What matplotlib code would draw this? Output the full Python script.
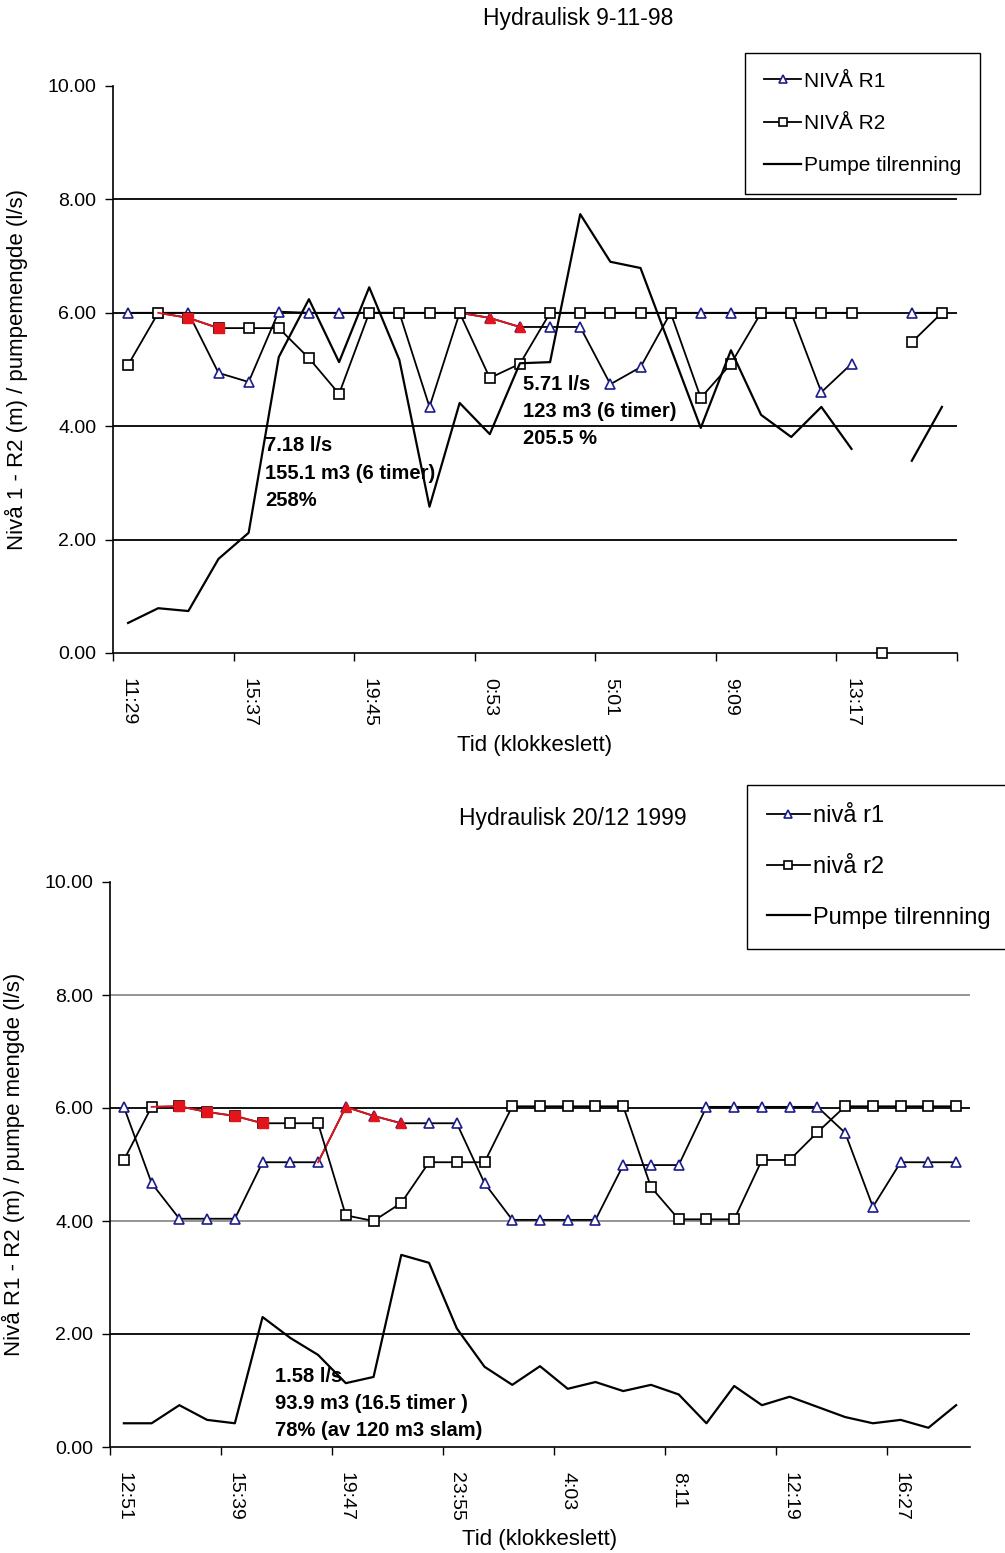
import numpy as np
import matplotlib
matplotlib.use("Agg")
import matplotlib.pyplot as plt
from matplotlib.ticker import FixedLocator, FixedFormatter, NullFormatter

plt.rcParams['font.family'] = ['Liberation Sans', 'DejaVu Sans']

nan = np.nan

# ---------------- Data: chart 1 (Hydraulisk 9-11-98) ----------------
top_title = "Hydraulisk 9-11-98"
top_tick_labels = ["11:29", "15:37", "19:45", "0:53", "5:01", "9:09", "13:17"]
top_r1 = [6.0, 6.0, 6.0, 4.94, 4.78, 6.02, 6.0, 6.0, 6.0, 6.0, 4.34, 6.0, 5.91, 5.75,
          5.75, 5.75, 4.74, 5.04, 6.0, 6.0, 6.0, 6.0, 6.0, 4.6, 5.1, nan, 6.0, 6.0]
top_r2 = [5.08, 6.0, 5.91, 5.73, 5.73, 5.73, 5.2, 4.57, 6.0, 6.0, 6.0, 6.0, 4.85, 5.1,
          6.0, 6.0, 6.0, 6.0, 6.0, 4.5, 5.1, 6.0, 6.0, 6.0, 6.0, 0.0, 5.48, 6.0]
top_pump = [0.53, 0.79, 0.74, 1.66, 2.12, 5.22, 6.24, 5.13, 6.45, 5.17, 2.58, 4.41, 3.86,
            5.11, 5.13, 7.74, 6.9, 6.79, 5.38, 3.97, 5.34, 4.2, 3.81, 4.34, 3.6, nan, 3.39, 4.34]
top_r2_isolated = [25]          # point shown without connecting line
top_r2_red = (1, 3)             # red segment range (start, end) of R2
top_r1_red = (11, 13)           # red segment range of R1
top_labels = ["NIVÅ R1", "NIVÅ R2", "Pumpe tilrenning"]
top_ylabel = "Nivå 1 - R2 (m) / pumpemengde (l/s)"
top_notes = [(4.55, 3.82, "7.18 l/s\n155.1 m3 (6 timer)\n258%"),
             (13.1, 4.91, "5.71 l/s\n123 m3 (6 timer)\n205.5 %")]

# ---------------- Data: chart 2 (Hydraulisk 20/12 1999) ----------------
bot_title = "Hydraulisk 20/12 1999"
bot_tick_labels = ["12:51", "15:39", "19:47", "23:55", "4:03", "8:11", "12:19", "16:27"]
bot_r1 = [6.02, 4.67, 4.04, 4.04, 4.04, 5.04, 5.04, 5.04, 6.02, 5.86, 5.73, 5.73, 5.73,
          4.67, 4.02, 4.02, 4.02, 4.02, 4.99, 4.99, 4.99, 6.02, 6.02, 6.02, 6.02, 6.02,
          5.56, 4.25, 5.04, 5.04, 5.04]
bot_r2 = [5.08, 6.02, 6.03, 5.93, 5.86, 5.73, 5.73, 5.73, 4.1, 4.0, 4.32, 5.04, 5.04,
          5.04, 6.03, 6.03, 6.03, 6.03, 6.03, 4.6, 4.03, 4.03, 4.03, 5.08, 5.08, 5.57,
          6.03, 6.03, 6.03, 6.03, 6.03]
bot_pump = [0.42, 0.42, 0.74, 0.48, 0.42, 2.3, 1.93, 1.63, 1.13, 1.24, 3.4, 3.26, 2.1,
            1.42, 1.1, 1.43, 1.03, 1.15, 0.99, 1.1, 0.93, 0.42, 1.08, 0.74, 0.89, 0.71,
            0.53, 0.42, 0.48, 0.34, 0.74]
bot_r2_isolated = []
bot_r2_red = (1, 5)
bot_r1_red = (7, 10)
bot_labels = ["nivå r1", "nivå r2", "Pumpe tilrenning"]
bot_ylabel = "Nivå R1 - R2 (m) / pumpe mengde (l/s)"
bot_notes = [(5.45, 1.42, "1.58 l/s\n93.9 m3 (16.5 timer )\n78% (av 120 m3 slam)")]

# ---------------- Styling ----------------
BLUE = "#1c1c8a"
RED = "#e3141c"
LW = 1.3
MS = 6.8

W, H = 1005, 1553
fig = plt.figure(figsize=(W / 100, H / 100), dpi=100)


def draw(ax, r1, r2, pump, r2_iso, r2_red, r1_red, tick_labels, labels,
         ylabel, notes, grid_colors, legend_pos, legend_fs, legend_spacing, legend_pad):
    n = len(r1)
    x = np.arange(n)
    r1 = np.array(r1, dtype=float)
    r2 = np.array(r2, dtype=float)
    pump = np.array(pump, dtype=float)

    for yv, c in zip([2, 4, 6, 8], grid_colors):
        ax.axhline(yv, color=c, lw=1.3, zorder=1)

    # R1
    l1, = ax.plot(x, r1, color="black", lw=LW, marker="^", ms=MS,
                  mfc="white", mec=BLUE, mew=1.2, zorder=3, label=labels[0])
    a, b = r1_red
    ax.plot(x[a:b + 1], r1[a:b + 1], color=RED, lw=LW, zorder=3.5)
    ax.plot(x[a + 1:b + 1], r1[a + 1:b + 1], ls="none", marker="^", ms=MS,
            mfc=RED, mec=RED, zorder=3.6)

    # R2
    r2_line = r2.copy()
    for i in r2_iso:
        r2_line[i] = nan
    l2, = ax.plot(x, r2_line, color="black", lw=LW, marker="s", ms=MS,
                  mfc="white", mec="black", mew=1.2, zorder=4, label=labels[1])
    for i in r2_iso:
        ax.plot(x[i], r2[i], ls="none", marker="s", ms=MS, mfc="white",
                mec="black", mew=1.2, zorder=4, clip_on=False)
    a, b = r2_red
    ax.plot(x[a:b + 1], r2[a:b + 1], color=RED, lw=LW, zorder=4.5)
    ax.plot(x[a + 1:b + 1], r2[a + 1:b + 1], ls="none", marker="s", ms=MS,
            mfc=RED, mec=RED, zorder=4.6)

    # Pump
    l3, = ax.plot(x, pump, color="black", lw=1.6, zorder=5, label=labels[2])

    ax.set_xlim(-0.5, n - 0.5)
    ax.set_ylim(0, 10)
    ax.spines["top"].set_visible(False)
    ax.spines["right"].set_visible(False)
    for s in ("left", "bottom"):
        ax.spines[s].set_linewidth(1.2)

    ax.xaxis.set_major_locator(FixedLocator(np.arange(-0.5, n - 0.5 + 0.01, 4)))
    ax.xaxis.set_major_formatter(NullFormatter())
    ax.xaxis.set_minor_locator(FixedLocator(np.arange(0, n, 4)[:len(tick_labels)]))
    ax.xaxis.set_minor_formatter(FixedFormatter(tick_labels))
    ax.tick_params(axis="x", which="major", direction="out", length=6, width=1.0)
    ax.tick_params(axis="x", which="minor", length=0, pad=18, labelsize=14,
                   labelrotation=-90)
    ax.set_yticks([0, 2, 4, 6, 8, 10])
    ax.set_yticklabels(["%.2f" % v for v in [0, 2, 4, 6, 8, 10]])
    ax.tick_params(axis="y", direction="out", length=6, width=1.0, labelsize=14, pad=6)

    ax.set_xlabel("Tid (klokkeslett)", fontsize=16, labelpad=6)
    ax.set_ylabel(ylabel, fontsize=16, labelpad=14)

    for (tx, ty, txt) in notes:
        ax.text(tx, ty, txt, fontsize=14.5, fontweight="bold", ha="left", va="top",
                linespacing=1.55, zorder=6)

    lx, ly = legend_pos
    leg = fig.legend(handles=[l1, l2, l3], loc="upper left",
                     bbox_to_anchor=(lx / W, 1 - ly / H),
                     bbox_transform=fig.transFigure,
                     fontsize=legend_fs, frameon=True, fancybox=False,
                     edgecolor="black", framealpha=1, handlelength=1.8,
                     handletextpad=0.15, labelspacing=legend_spacing,
                     borderpad=legend_pad, borderaxespad=0, markerscale=0.75)
    leg.get_frame().set_linewidth(1.0)
    return ax


ax1 = fig.add_axes([113 / W, 1 - 653 / H, 844 / W, 567 / H])
draw(ax1, top_r1, top_r2, top_pump, top_r2_isolated, top_r2_red, top_r1_red,
     top_tick_labels, top_labels, top_ylabel, top_notes,
     ["black", "black", "black", "black"], (745, 53), 15, 1.12, 0.9)
fig.text(578 / W, 1 - 18 / H, top_title, fontsize=16.5, ha="center", va="center")

ax2 = fig.add_axes([110 / W, 1 - 1447 / H, 860 / W, 565 / H])
draw(ax2, bot_r1, bot_r2, bot_pump, bot_r2_isolated, bot_r2_red, bot_r1_red,
     bot_tick_labels, bot_labels, bot_ylabel, bot_notes,
     ["black", "#8c8c8c", "black", "#8c8c8c"], (747, 785), 17, 1.22, 0.85)
fig.text(573 / W, 1 - 818 / H, bot_title, fontsize=16.5, ha="center", va="center")

fig.savefig("out.png", dpi=100)
